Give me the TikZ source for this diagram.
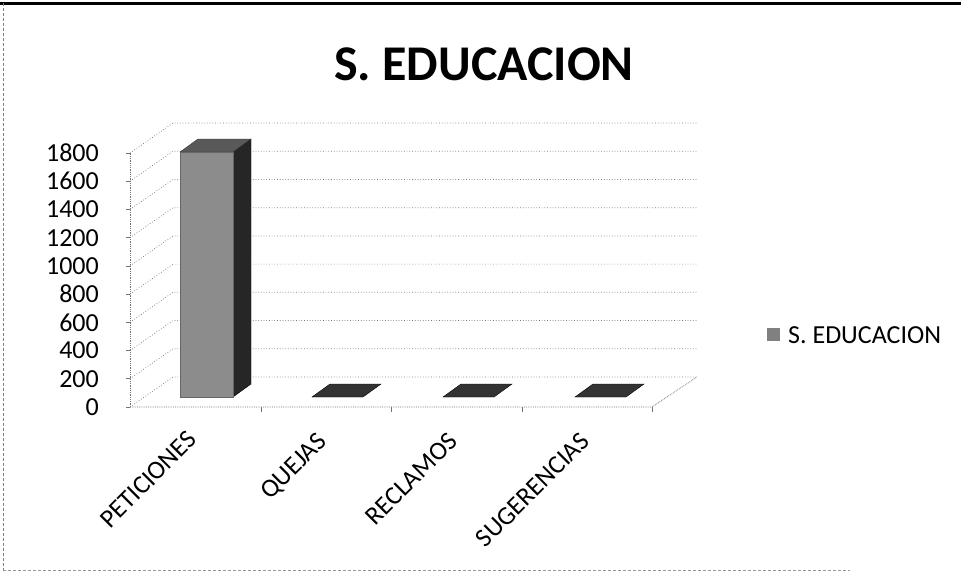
\documentclass[tikz,border=0pt]{standalone}
\usepackage{fontspec}
\setmainfont{Carlito}
\begin{document}
\begin{tikzpicture}[x=1pt,y=-1pt,
  grid/.style={draw=gray!90!black,line width=0.7pt,dotted},
  axisln/.style={draw=gray!90!black,line width=0.8pt,densely dotted},
  ticklbl/.style={anchor=east,inner sep=0pt,font=\fontsize{26}{30}\selectfont},
  catlbl/.style={anchor=north east,rotate=45,inner sep=0pt,font=\fontsize{26}{30}\selectfont},
  frontface/.style={fill=black!45,draw=black!60,line width=0.4pt},
  sideface/.style={fill=black!85,draw=black,line width=0.4pt},
  topface/.style={fill=black!65,draw=black!80,line width=0.4pt},
  flatbar/.style={fill=black!80,draw=black,line width=0.4pt}]
\useasboundingbox (0,0) rectangle (961,576);
% frame
\draw[line width=3pt] (0,3) -- (961,3);
\draw[gray,densely dashed,line width=0.6pt] (3,3) -- (3,570);
\draw[gray!80,densely dashed,line width=0.6pt] (3,570) -- (850,570);
% title
\node[anchor=base,inner sep=0pt,font=\fontsize{50}{56}\selectfont\bfseries] (title) at (484,80) {S. EDUCACION};
% grid: back wall lines and left wall diagonals
\foreach \k/\v in {0/0,1/200,2/400,3/600,4/800,5/1000,6/1200,7/1400,8/1600,9/1800}{
  \pgfmathsetmacro{\yf}{407-\k*28.22}
  \pgfmathsetmacro{\yb}{377-\k*28.22}
  \coordinate (f\k) at (130,\yf);
  \coordinate (b\k) at (173,\yb);
  \coordinate (r\k) at (697,\yb);
  \draw[grid] (f\k) -- (b\k) -- (r\k);
  \draw[gray!90!black,line width=0.7pt] (f\k) -- ++(-4,0);
  \node[ticklbl] (t\k) at (99,\yf) {\v};
}
% axes
\draw[axisln] (f0) -- (f9);
\coordinate (fr) at (652,407);
\draw[axisln] (f0) -- (fr) -- (r0);
\foreach \x in {261,391,522,652}{
  \draw[gray!90!black,line width=0.7pt] (\x,407) -- (\x,412);
}
% bar PETICIONES
\coordinate (p1) at (180,397);
\coordinate (p2) at (233,397);
\coordinate (p3) at (233,152);
\coordinate (p4) at (180,152);
\draw[sideface] (p2) -- ++(18,-13) -- ++(0,-245) -- (p3) -- cycle;
\draw[topface] (p4) -- ++(18,-13) -- ++(53,0) -- (p3) -- cycle;
\draw[frontface] (p1) rectangle (p3);
% flat bars
\foreach \L/\n in {312/q,443/r,575/s}{
  \coordinate (\n1) at (\L,397);
  \draw[flatbar] (\n1) -- ++(51,0) -- ++(18,-13) -- ++(-51,0) -- cycle;
}
% category labels
\node[catlbl] (c1) at (186,429) {PETICIONES};
\node[catlbl] (c2) at (316,431) {QUEJAS};
\node[catlbl] (c3) at (447,431) {RECLAMOS};
\node[catlbl] (c4) at (579,431) {SUGERENCIAS};
% legend
\fill[black!50] (767,328) rectangle (780,341);
\node[anchor=base west,inner sep=0pt,font=\fontsize{26}{30}\selectfont] (leg) at (788,343) {S. EDUCACION};
\end{tikzpicture}
\end{document}
